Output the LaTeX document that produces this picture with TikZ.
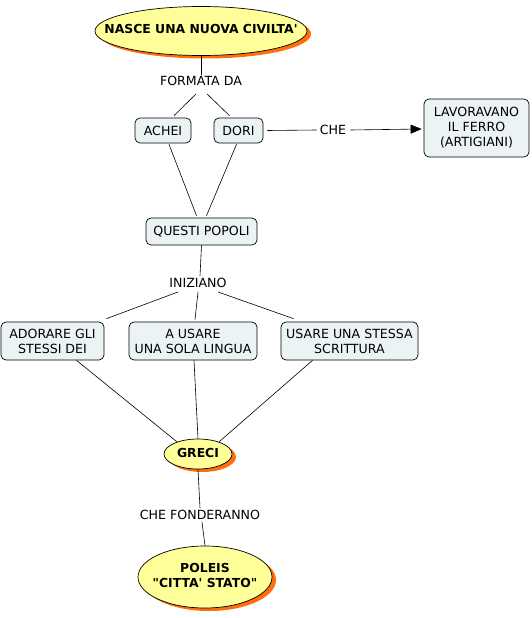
\documentclass[tikz,border=0pt]{standalone}
\usepackage{fontspec}
\setmainfont{DejaVu Sans}[Ligatures=TeXOff]
\usetikzlibrary{shapes.geometric,arrows.meta,calc,shadows}
\definecolor{boxfill}{RGB}{236,243,245}
\definecolor{yel}{RGB}{255,255,153}
\definecolor{shad}{RGB}{255,110,10}
\newcommand{\zb}[1]{\makebox[0pt][c]{\begin{tabular}{@{}c@{}}#1\end{tabular}}}
\tikzset{
  txt/.style={font=\fontsize{12.6}{15}\selectfont, align=center},
  concept/.style={txt, draw=black, line width=0.7pt, fill=boxfill, rounded corners=5pt, inner sep=0pt},
  root/.style={ellipse, draw=black, line width=0.7pt, fill=yel, inner sep=0pt, align=center,
    font=\fontsize{12.4}{15}\bfseries,
    drop shadow={shadow xshift=4pt, shadow yshift=-3pt, fill=shad, opacity=1}},
  lab/.style={txt, inner sep=0pt},
  conn/.style={draw=black, line width=0.6pt}
}
\begin{document}
\begin{tikzpicture}[x=1pt,y=-1pt]
\useasboundingbox (0,0) rectangle (531,618);
% nodes
\node[root, minimum width=212, minimum height=49] (top) at (201,31) {\zb{NASCE UNA NUOVA CIVILTA'}};
\node[lab] (fd) at (201,81) {FORMATA DA};
\node[concept, minimum width=56, minimum height=25] (achei) at (163,130.5) {ACHEI};
\node[concept, minimum width=49, minimum height=25] (dori) at (238.5,130.5) {DORI};
\node[lab] (che) at (333,130) {CHE};
\node[concept, minimum width=105, minimum height=58] (lav) at (476.5,128) {LAVORAVANO\\IL FERRO\\(ARTIGIANI)};
\node[concept, minimum width=111, minimum height=27] (qp) at (201.5,231.5) {QUESTI POPOLI};
\node[lab] (iniz) at (198,283) {INIZIANO};
\node[concept, minimum width=103, minimum height=38] (ador) at (52.5,341) {ADORARE GLI\\STESSI DEI};
\node[concept, minimum width=128, minimum height=38] (usare) at (193,341) {A USARE\\UNA SOLA LINGUA};
\node[concept, minimum width=137, minimum height=38] (scrit) at (349.5,341) {USARE UNA STESSA\\SCRITTURA};
\node[root, minimum width=68, minimum height=30] (greci) at (198,454) {\zb{GRECI}};
\node[lab] (fond) at (200,515) {CHE FONDERANNO};
\node[root, minimum width=134, minimum height=62] (poleis) at (205,577) {\zb{POLEIS\\"CITTA' STATO"}};
% connectors
\draw[conn] (top.south) -- ($(fd.north)+(0,-1)$);
\draw[conn] ($(fd.south)+(-5,8)$) -- ($(achei.north)+(11,-2)$);
\draw[conn] ($(fd.south)+(6,8)$) -- ($(dori.north)+(-9,-2)$);
\draw[conn] ($(dori.east)+(4,0)$) -- ($(che.west)+(-3,0)$);
\draw[conn, -{Triangle[length=11pt,width=9pt]}] ($(che.east)+(4,0)$) -- ($(lav.west)+(-2,1)$);
\draw[conn] ($(achei.south)+(6,1)$) -- ($(qp.north)+(-5,-2)$);
\draw[conn] ($(dori.south)+(-2,1)$) -- ($(qp.north)+(5,-2)$);
\draw[conn] (qp.south) -- ($(iniz.north)+(2,-2)$);
\draw[conn] ($(iniz.south)+(-20,4)$) -- ($(ador.north)+(54,-3)$);
\draw[conn] ($(iniz.south)+(0,4)$) -- ($(usare.north)+(2,-2)$);
\draw[conn] ($(iniz.south)+(20,4)$) -- ($(scrit.north)+(-56,-3)$);
\draw[conn] ($(ador.south)+(24,0)$) -- (greci.150);
\draw[conn] ($(usare.south)+(1,0)$) -- (greci.north);
\draw[conn] ($(scrit.south)+(-37,0)$) -- (greci.30);
\draw[conn] (greci.south) -- ($(fond.north)+(0,-2)$);
\draw[conn] ($(fond.south)+(2,2)$) -- (poleis.north);
\end{tikzpicture}
\end{document}
